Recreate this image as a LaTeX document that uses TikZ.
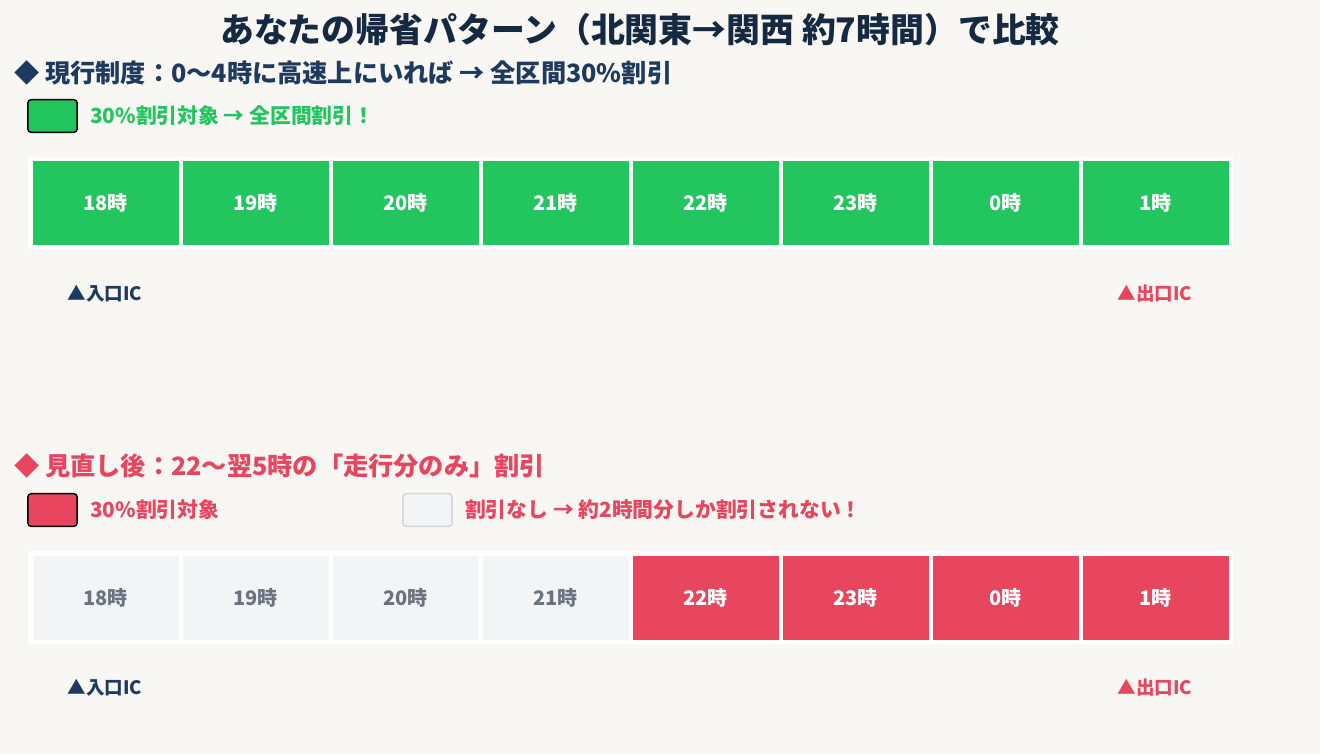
\documentclass[tikz,border=0pt]{standalone}
\usepackage{fontspec}
\setmainfont{Noto Sans CJK JP}
\usetikzlibrary{positioning}

\definecolor{paper}{HTML}{F8F7F3}
\definecolor{navy}{HTML}{1E3A5F}
\definecolor{okgreen}{HTML}{22C55E}
\definecolor{cutred}{HTML}{E8455F}
\definecolor{offgray}{HTML}{F3F4F6}
\definecolor{offtext}{HTML}{6B7280}
\definecolor{offline}{HTML}{D1D5DB}

\tikzset{
  hour/.style={minimum width=109.5pt, minimum height=63pt, inner sep=0pt,
    font=\bfseries\fontsize{15}{15}\selectfont, text=white},
  oncell/.style={hour, fill=okgreen},
  cutcell/.style={hour, fill=cutred},
  offcell/.style={hour, fill=offgray, text=offtext},
  key/.style={minimum width=37pt, minimum height=24.5pt, inner sep=0pt,
    rounded corners=2.5pt, draw=black, line width=1.1pt},
  keytext/.style={anchor=west, inner sep=0pt, font=\bfseries\fontsize{15.6}{15.6}\selectfont},
  heading/.style={anchor=west, inner sep=0pt, font=\bfseries\fontsize{18.9}{18.9}\selectfont},
  ic/.style={inner sep=0pt, font=\bfseries\fontsize{13.9}{13.9}\selectfont}
}

\begin{document}
\begin{tikzpicture}[x=0.75pt, y=-0.75pt, node distance=112.5pt]
\fill[paper] (0,0) rectangle (1320,754);
\useasboundingbox (0,0) rectangle (1320,754);

\node[font=\bfseries\fontsize{25.4}{25.4}\selectfont, text=navy!70!black] (title) at (640,30)
  {あなたの帰省パターン（北関東→関西 約7時間）で比較};

% current rule
\node[heading, text=navy] (headA) at (14,73)
  {◆ 現行制度：0〜4時に高速上にいれば → 全区間30\%割引};
\node[key, fill=okgreen] (keyA) at (52.5,116) {};
\node[keytext, text=okgreen, right=9pt of keyA] (keyAtext)
  {30\%割引対象 → 全区間割引！};

\fill[white] (28,157) rectangle (1233,249);
\node[oncell] (a18) at (105.5,203) {18時};
\node[oncell, right of=a18] (a19) {19時};
\node[oncell, right of=a19] (a20) {20時};
\node[oncell, right of=a20] (a21) {21時};
\node[oncell, right of=a21] (a22) {22時};
\node[oncell, right of=a22] (a23) {23時};
\node[oncell, right of=a23] (a0) {0時};
\node[oncell, right of=a0] (a1) {1時};

\node[ic, text=navy] (inA) at (105,294) {▲入口IC};
\node[ic, text=cutred] (outA) at (1155,294) {▲出口IC};

% revised rule
\node[heading, text=cutred] (headB) at (14,466)
  {◆ 見直し後：22〜翌5時の「走行分のみ」割引};
\node[key, fill=cutred] (keyB) at (52.5,510) {};
\node[keytext, text=cutred, right=9pt of keyB] (keyBtext) {30\%割引対象};
\node[key, fill=offgray, draw=offline] (keyC) at (427.5,510) {};
\node[keytext, text=cutred, right=9pt of keyC] (keyCtext)
  {割引なし → 約2時間分しか割引されない！};

\fill[white] (28,551) rectangle (1233,644);
\node[offcell] (b18) at (105.5,598) {18時};
\node[offcell, right of=b18] (b19) {19時};
\node[offcell, right of=b19] (b20) {20時};
\node[offcell, right of=b20] (b21) {21時};
\node[cutcell, right of=b21] (b22) {22時};
\node[cutcell, right of=b22] (b23) {23時};
\node[cutcell, right of=b23] (b0) {0時};
\node[cutcell, right of=b0] (b1) {1時};

\node[ic, text=navy] (inB) at (105,688) {▲入口IC};
\node[ic, text=cutred] (outB) at (1155,688) {▲出口IC};
\end{tikzpicture}
\end{document}
